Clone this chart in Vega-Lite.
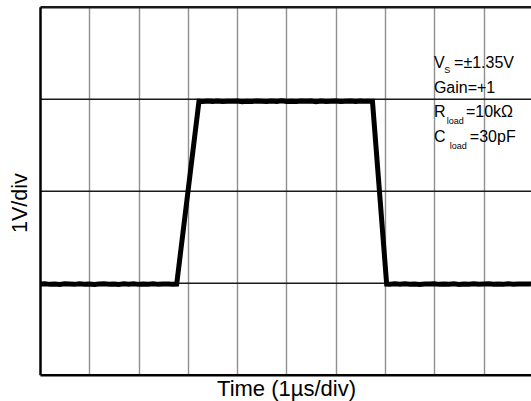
{
  "$schema": "https://vega.github.io/schema/vega-lite/v6.json",
  "width": 491,
  "height": 368,
  "autosize": {"type": "none"},
  "padding": {"left": 40, "top": 6.7, "right": 0, "bottom": 26.3},
  "config": {"view": {"stroke": null}, "font": "Liberation Sans"},
  "datasets": {
    "signal": [
      {"t": 0.0, "v": -1.015}, {"t": 0.1, "v": -1.011}, {"t": 0.2, "v": -1.018}, {"t": 0.3, "v": -1.013},
      {"t": 0.4, "v": -1.019}, {"t": 0.5, "v": -1.012}, {"t": 0.6, "v": -1.014}, {"t": 0.7, "v": -1.018},
      {"t": 0.8, "v": -1.011}, {"t": 0.9, "v": -1.016}, {"t": 1.0, "v": -1.013}, {"t": 1.1, "v": -1.019},
      {"t": 1.2, "v": -1.014}, {"t": 1.3, "v": -1.012}, {"t": 1.4, "v": -1.017}, {"t": 1.5, "v": -1.015},
      {"t": 1.6, "v": -1.019}, {"t": 1.7, "v": -1.012}, {"t": 1.8, "v": -1.016}, {"t": 1.9, "v": -1.011},
      {"t": 2.0, "v": -1.018}, {"t": 2.1, "v": -1.013}, {"t": 2.2, "v": -1.017}, {"t": 2.3, "v": -1.011},
      {"t": 2.4, "v": -1.018}, {"t": 2.5, "v": -1.014}, {"t": 2.6, "v": -1.013}, {"t": 2.7, "v": -1.016},
      {"t": 2.773, "v": -1.015},
      {"t": 3.225, "v": 0.972}, {"t": 3.3, "v": 0.969}, {"t": 3.4, "v": 0.975}, {"t": 3.5, "v": 0.971},
      {"t": 3.6, "v": 0.976}, {"t": 3.7, "v": 0.969}, {"t": 3.8, "v": 0.973}, {"t": 3.9, "v": 0.971},
      {"t": 4.0, "v": 0.975}, {"t": 4.1, "v": 0.968}, {"t": 4.2, "v": 0.973}, {"t": 4.3, "v": 0.970},
      {"t": 4.4, "v": 0.976}, {"t": 4.5, "v": 0.972}, {"t": 4.6, "v": 0.969}, {"t": 4.7, "v": 0.974},
      {"t": 4.8, "v": 0.971}, {"t": 4.9, "v": 0.977}, {"t": 5.0, "v": 0.970}, {"t": 5.1, "v": 0.972},
      {"t": 5.2, "v": 0.969}, {"t": 5.3, "v": 0.975}, {"t": 5.4, "v": 0.971}, {"t": 5.5, "v": 0.974},
      {"t": 5.6, "v": 0.968}, {"t": 5.7, "v": 0.975}, {"t": 5.8, "v": 0.970}, {"t": 5.9, "v": 0.973},
      {"t": 6.0, "v": 0.976}, {"t": 6.1, "v": 0.969}, {"t": 6.2, "v": 0.972}, {"t": 6.3, "v": 0.974},
      {"t": 6.4, "v": 0.970}, {"t": 6.5, "v": 0.976}, {"t": 6.6, "v": 0.971}, {"t": 6.7, "v": 0.973},
      {"t": 6.744, "v": 0.972},
      {"t": 7.032, "v": -1.015}, {"t": 7.1, "v": -1.018}, {"t": 7.2, "v": -1.012}, {"t": 7.3, "v": -1.016},
      {"t": 7.4, "v": -1.011}, {"t": 7.5, "v": -1.017}, {"t": 7.6, "v": -1.014}, {"t": 7.7, "v": -1.019},
      {"t": 7.8, "v": -1.013}, {"t": 7.9, "v": -1.015}, {"t": 8.0, "v": -1.011}, {"t": 8.1, "v": -1.018},
      {"t": 8.2, "v": -1.014}, {"t": 8.3, "v": -1.017}, {"t": 8.4, "v": -1.012}, {"t": 8.5, "v": -1.019},
      {"t": 8.6, "v": -1.013}, {"t": 8.7, "v": -1.016}, {"t": 8.8, "v": -1.012}, {"t": 8.9, "v": -1.018},
      {"t": 9.0, "v": -1.015}, {"t": 9.1, "v": -1.011}, {"t": 9.2, "v": -1.017}, {"t": 9.3, "v": -1.014},
      {"t": 9.4, "v": -1.016}, {"t": 9.5, "v": -1.012}, {"t": 9.6, "v": -1.018}, {"t": 9.7, "v": -1.014},
      {"t": 9.8, "v": -1.015}, {"t": 9.9, "v": -1.013}, {"t": 9.96, "v": -1.015}
    ],
    "bigText": [
      {"t": 7.99, "v": 1.334, "label": "V"},
      {"t": 8.40, "v": 1.334, "label": "=±1.35V"},
      {"t": 7.99, "v": 1.062, "label": "Gain=+1"},
      {"t": 7.99, "v": 0.801, "label": "R"},
      {"t": 8.64, "v": 0.801, "label": "=10kΩ"},
      {"t": 7.99, "v": 0.530, "label": "C"},
      {"t": 8.72, "v": 0.530, "label": "=30pF"}
    ],
    "smallText": [
      {"t": 8.20, "v": 1.279, "label": "S"},
      {"t": 8.25, "v": 0.725, "label": "load"},
      {"t": 8.31, "v": 0.453, "label": "load"}
    ]
  },
  "layer": [
    {
      "data": {"name": "signal"},
      "mark": {"type": "line", "color": "black", "strokeWidth": 5, "clip": true},
      "encoding": {
        "x": {
          "field": "t", "type": "quantitative",
          "scale": {"domain": [0, 9.96], "nice": false, "zero": false},
          "axis": {
            "orient": "bottom", "values": [1, 2, 3, 4, 5, 6, 7, 8, 9],
            "labels": false, "ticks": false,
            "domain": true, "domainColor": "black", "domainWidth": 2.5,
            "grid": true, "gridColor": "#8f8f8f", "gridWidth": 1.4,
            "title": "Time (1µs/div)", "titleFont": "Liberation Sans", "titleFontSize": 22,
            "titleFontWeight": "normal", "titleColor": "black",
            "titleBaseline": "alphabetic", "titleAnchor": "start", "titleAlign": "center",
            "titleX": 246, "titleY": 21
          }
        },
        "y": {
          "field": "v", "type": "quantitative",
          "scale": {"domain": [-2, 2], "nice": false, "zero": false},
          "axis": {
            "orient": "left", "values": [-1, 0, 1, 2],
            "labels": false, "ticks": false,
            "domain": true, "domainColor": "black", "domainWidth": 2.5,
            "grid": true, "gridColor": "#1a1a1a",
            "gridWidth": {"condition": {"test": "datum.value >= 2", "value": 2.6}, "value": 1.5},
            "title": "1V/div", "titleFont": "Liberation Sans", "titleFontSize": 21.5,
            "titleFontWeight": "normal", "titleColor": "black",
            "titleAngle": -90, "titleBaseline": "middle", "titleAlign": "center",
            "titleX": -20, "titleY": 196
          }
        }
      }
    },
    {
      "mark": {"type": "rect", "fill": "white", "stroke": null},
      "encoding": {
        "x": {"datum": 7.86}, "x2": {"datum": 9.87},
        "y": {"datum": 1.562}, "y2": {"datum": 0.29}
      }
    },
    {
      "data": {"name": "bigText"},
      "mark": {"type": "text", "font": "Liberation Sans", "fontSize": 16, "color": "black", "align": "left", "baseline": "alphabetic"},
      "encoding": {
        "x": {"field": "t", "type": "quantitative"},
        "y": {"field": "v", "type": "quantitative"},
        "text": {"field": "label"}
      }
    },
    {
      "data": {"name": "smallText"},
      "mark": {"type": "text", "font": "Liberation Sans", "fontSize": 9, "color": "black", "align": "left", "baseline": "alphabetic"},
      "encoding": {
        "x": {"field": "t", "type": "quantitative"},
        "y": {"field": "v", "type": "quantitative"},
        "text": {"field": "label"}
      }
    }
  ]
}
